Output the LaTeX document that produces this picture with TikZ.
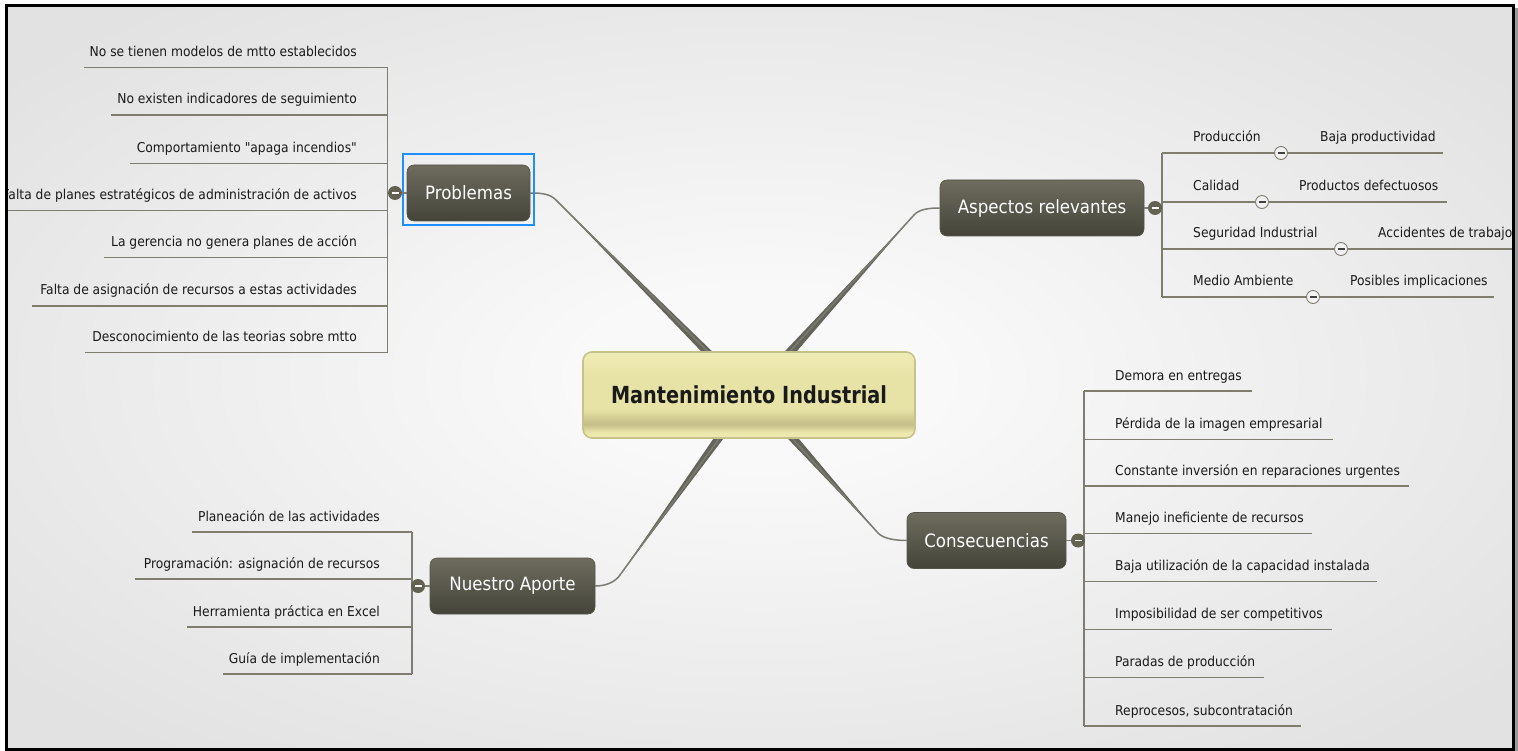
\documentclass[tikz,border=0pt]{standalone}
\usepackage{fontspec}
\setmainfont{DejaVu Sans}[FakeStretch=0.905, Ligatures=TeXOff]
\newfontfamily\centralfont{DejaVu Sans}[FakeStretch=0.82]
\usetikzlibrary{calc,backgrounds}
\definecolor{bgin}{HTML}{F9F9F9}
\definecolor{bgout}{HTML}{E2E2E2}
\definecolor{linec}{HTML}{7F7D70}
\definecolor{branchc}{HTML}{65645A}
\definecolor{topictop}{HTML}{6E6C5E}
\definecolor{topicbot}{HTML}{45443A}
\definecolor{topicborder}{HTML}{55544A}
\definecolor{ydA}{HTML}{EDE9AE}
\definecolor{ydB}{HTML}{C5BD86}
\definecolor{ydC}{HTML}{E7E3A7}
\definecolor{ydD}{HTML}{F0ECB6}
\definecolor{yborder}{HTML}{C6C28C}
\definecolor{selblue}{HTML}{1E8FFF}
\definecolor{knobdark}{HTML}{626152}
\definecolor{leaftext}{HTML}{1A1A1A}
\pgfdeclareverticalshading{centralshade}{100bp}{color(0bp)=(ydA); color(25bp)=(ydA); color(28bp)=(ydA); color(33bp)=(ydB); color(42bp)=(ydC); color(62bp)=(ydC); color(75bp)=(ydD); color(100bp)=(ydD)}
\pgfdeclareradialshading{bgshade}{\pgfpoint{0bp}{0bp}}{color(0bp)=(bgin); color(6bp)=(bgin); color(32bp)=(bgout); color(50bp)=(bgout)}
\begin{document}
\begin{tikzpicture}[x=1pt,y=-1pt,
  leaf/.style={font=\fontsize{13.6}{15}\selectfont, text=leaftext, inner sep=0pt},
  tline/.style={draw=linec, line width=1.3pt},
  topic/.style={rounded corners=7pt, top color=topictop, bottom color=topicbot, draw=topicborder, line width=0.6pt, text=white, font=\fontsize{18.4}{21}\selectfont, minimum height=56pt, inner sep=0pt},
  central/.style={rounded corners=9pt, shading=centralshade, shade, draw=yborder, line width=1.6pt, font=\centralfont\bfseries\fontsize{23.5}{26}\selectfont, text=leaftext, minimum width=332pt, minimum height=86pt, inner sep=0pt},
  knob/.style={circle, fill=knobdark, minimum size=14pt, inner sep=0pt, path picture={\draw[white, line width=1.3pt] ([xshift=3.5pt]path picture bounding box.west) -- ([xshift=-3.5pt]path picture bounding box.east);}},
  toggle/.style={circle, fill=white!95!black, draw=linec, line width=0.9pt, minimum size=13pt, inner sep=0pt, path picture={\draw[black!75, line width=1.1pt] ([xshift=3pt]path picture bounding box.west) -- ([xshift=-3pt]path picture bounding box.east);}},
  wedge/.style={fill=branchc},
  conn/.style={draw=branchc!85!white, line width=1.5pt},
]
\useasboundingbox (0,0) rectangle (1518,751);
\begin{scope}[on background layer]
  \fill[white] (0,0) rectangle (1518,751);
  \shade[shading=bgshade] (6,5) rectangle (1513,749);
\end{scope}

% main nodes
\node[central] (mi) at (749,395) {Mantenimiento Industrial};
\node[topic, minimum width=123pt] (prob) at (468.5,193) {Problemas};
\node[topic, minimum width=204pt] (asp) at (1042,208) {Aspectos relevantes};
\node[topic, minimum width=159pt] (cons) at (986.5,540.5) {Consecuencias};
\node[topic, minimum width=165pt] (nues) at (512.5,586) {Nuestro Aporte};
\draw[selblue, line width=2.2pt] ($(prob.south west)+(-4,4)$) rectangle ($(prob.north east)+(4,-11)$);

% branches
\coordinate (pK) at (556,200);
\coordinate (aK) at (914,215);
\coordinate (cK) at (878,533);
\coordinate (nK) at (620,575);
\begin{scope}[on background layer]
  \fill[wedge] (pK) -- ($(mi.north)+(-36,1)$) -- ($(mi.north)+(-47,1)$) -- cycle;
  \draw[conn] (prob.east) .. controls +(12,0) and +(-6,-6) .. (pK) -- ($(mi.north)+(-41.5,0)$);
  \fill[wedge] (aK) -- ($(mi.north)+(35,1)$) -- ($(mi.north)+(47,1)$) -- cycle;
  \draw[conn] ($(mi.north)+(41,0)$) -- (aK) .. controls +(5,-5.5) and +(-12,0) .. (asp.west);
  \fill[wedge] (cK) -- ($(mi.south)+(38,-1)$) -- ($(mi.south)+(49,-1)$) -- cycle;
  \draw[conn] ($(mi.south)+(43.5,0)$) -- (cK) .. controls +(5,5.5) and +(-12,0) .. (cons.west);
  \fill[wedge] (nK) -- ($(mi.south)+(-35,-1)$) -- ($(mi.south)+(-25,-1)$) -- cycle;
  \draw[conn] ($(mi.south)+(-30,0)$) -- (nK) .. controls +(-4,6) and +(12,0) .. (nues.east);
\end{scope}

% Problemas
\coordinate (pbus) at (387.5,193);
\draw[tline] (pbus |- 0,67.7) -- (pbus |- 0,352.7);
\foreach \i/\y/\x/\t in {1/67.7/84/{No se tienen modelos de mtto establecidos},
  2/115/111/{No existen indicadores de seguimiento},
  3/163.3/130/{Comportamiento "apaga incendios"},
  4/210.7/0/{Falta de planes estratégicos de administración de activos},
  5/257.7/104/{La gerencia no genera planes de acción},
  6/306/32/{Falta de asignación de recursos a estas actividades},
  7/352.7/85/{Desconocimiento de las teorias sobre mtto}}
{
  \node[leaf, anchor=base east] (p\i) at (357,\y-11) {\t};
  \draw[tline] (\x,\y) -- (pbus |- 0,\y);
}
\draw[tline] (prob.west) -- (pbus);
\node[knob] (pknob) at (395,193) {};

% Aspectos relevantes
\coordinate (abus) at (1162,208);
\draw[tline] (abus |- 0,153) -- (abus |- 0,297);
\foreach \i/\y/\cx/\bx/\ex/\a/\b in {1/153/1281/1320/1443/{Producción}/{Baja productividad},
  2/202/1262/1299/1447/{Calidad}/{Productos defectuosos},
  3/249/1341/1378/1520/{Seguridad Industrial}/{Accidentes de trabajo},
  4/297/1313/1350/1494/{Medio Ambiente}/{Posibles implicaciones}}
{
  \node[leaf, anchor=base west] (a\i) at (1193,\y-11) {\a};
  \node[leaf, anchor=base west] (b\i) at (\bx,\y-11) {\b};
  \draw[tline] (abus |- 0,\y) -- (\ex,\y);
  \node[toggle] (t\i) at (\cx,\y) {};
}
\draw[tline] (asp.east) -- (abus);
\node[knob] (aknob) at (1155,208) {};

% Consecuencias
\coordinate (cbus) at (1084,540.5);
\draw[tline] (cbus |- 0,391) -- (cbus |- 0,726);
\foreach \i/\y/\ex/\t in {1/391/1252/{Demora en entregas},
  2/439.3/1333/{Pérdida de la imagen empresarial},
  3/486/1409/{Constante inversión en reparaciones urgentes},
  4/533.3/1312/{Manejo ineficiente de recursos},
  5/581.7/1377/{Baja utilización de la capacidad instalada},
  6/629.3/1332/{Imposibilidad de ser competitivos},
  7/677.7/1264/{Paradas de producción},
  8/726/1301/{Reprocesos, subcontratación}}
{
  \node[leaf, anchor=base west] (c\i) at (1115,\y-11) {\t};
  \draw[tline] (cbus |- 0,\y) -- (\ex,\y);
}
\draw[tline] (cons.east) -- (cbus);
\node[knob] (cknob) at (1078,540.5) {};

% Nuestro Aporte
\coordinate (nbus) at (412,586);
\draw[tline] (nbus |- 0,532) -- (nbus |- 0,674);
\foreach \i/\y/\x/\t in {1/532/192/{Planeación de las actividades},
  2/579/135/{Programación: asignación de recursos},
  3/627/187/{Herramienta práctica en Excel},
  4/674/223/{Guía de implementación}}
{
  \node[leaf, anchor=base east] (n\i) at (380,\y-11) {\t};
  \draw[tline] (\x,\y) -- (nbus |- 0,\y);
}
\draw[tline] (nues.west) -- (nbus);
\node[knob] (nknob) at (418,586) {};

% frame
\fill[white] (0,0) rectangle (5,751);
\fill[white] (0,0) rectangle (1518,4);
\fill[black!40] (1514.5,8) rectangle (1518,751);
\draw[black, line width=2.6pt] (6.3,5.3) rectangle (1513.3,749.7);
\end{tikzpicture}
\end{document}
